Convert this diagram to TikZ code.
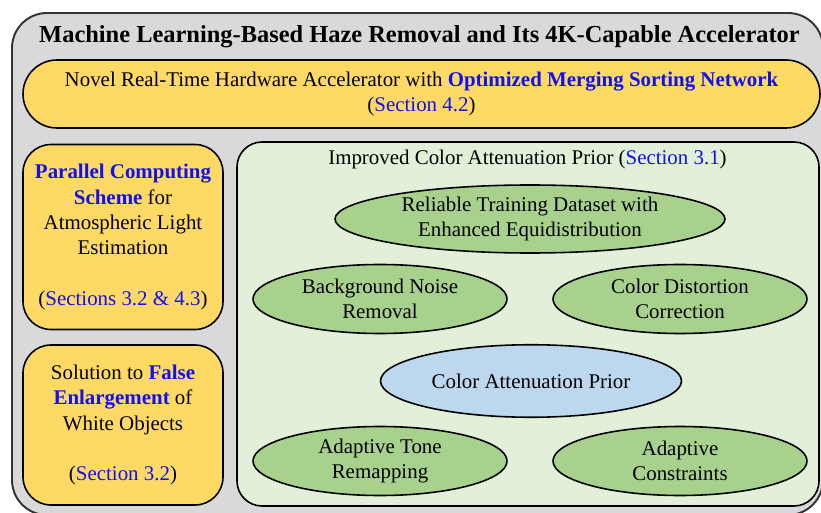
\documentclass[tikz,border=0pt]{standalone}
\usepackage{fontspec}
\setmainfont{Liberation Serif}
\usepackage{xcolor}
\usetikzlibrary{shapes.geometric}

\definecolor{framegray}{HTML}{D9D9D9}
\definecolor{boxgold}{HTML}{FFD966}
\definecolor{panelgreen}{HTML}{E2F0D9}
\definecolor{ovalgreen}{HTML}{A9D18E}
\definecolor{ovalblue}{HTML}{BDD7EE}
\definecolor{linkblue}{HTML}{1010F0}

\newcommand{\hlt}[1]{\textcolor{linkblue}{\textbf{#1}}}
\newcommand{\secref}[1]{(\textcolor{linkblue}{#1})}

\tikzset{
  bodytext/.style={font=\fontsize{11.9}{14.4}\selectfont, align=center},
  goldbox/.style={draw, fill=boxgold, line width=0.9pt, rounded corners=0.56cm, bodytext, minimum width=4cm},
  oval/.style={ellipse, draw, fill=ovalgreen, line width=0.9pt, inner sep=0pt, bodytext, minimum width=5.08cm, minimum height=1.38cm}
}

\begin{document}
\begin{tikzpicture}
    \useasboundingbox (0,0) rectangle (16.42,10.24);
    % outer frame
    \draw[fill=framegray, draw=black!80, line width=1.1pt, rounded corners=0.7cm] (0.24,-0.06) rectangle (16.46,9.98);
    \node[font=\fontsize{13.9}{16}\selectfont\bfseries] (title) at (8.39,9.5) {Machine Learning-Based Haze Removal and Its 4K-Capable Accelerator};

    % accelerator
    \node[goldbox, rounded corners=0.68cm, minimum width=15.94cm, minimum height=1.36cm] (accel) at (8.43,8.36) {Novel Real-Time Hardware Accelerator with \hlt{Optimized Merging Sorting Network}\\ \secref{Section 4.2}};

    % left column
    \node[goldbox, minimum height=3.7cm] (airlight) at (2.46,5.5) {\hlt{Parallel Computing}\\ \hlt{Scheme} for\\ Atmospheric Light\\ Estimation\\[14.4pt] \secref{Sections 3.2 \& 4.3}};
    \node[goldbox, minimum height=3.2cm] (whiteobj) at (2.46,1.74) {Solution to \hlt{False}\\ \hlt{Enlargement} of\\ White Objects\\[14.4pt] \secref{Section 3.2}};

    % improved CAP
    \node[draw, fill=panelgreen, line width=0.9pt, rounded corners=0.5cm, minimum width=11.64cm, minimum height=7.28cm] (cap) at (10.56,3.76) {};
    \node[bodytext] (captitle) at (10.55,7.06) {Improved Color Attenuation Prior \secref{Section 3.1}};
    \node[oval, minimum width=7.8cm, minimum height=1.36cm] (dataset) at (10.6,5.86) {Reliable Training Dataset with\\ Enhanced Equidistribution};
    \node[oval] (noise) at (7.6,4.26) {Background Noise\\ Removal};
    \node[oval] (distort) at (13.6,4.26) {Color Distortion\\ Correction};
    \node[oval, fill=ovalblue, minimum width=6.02cm, minimum height=1.45cm] (prior) at (10.62,2.62) {Color Attenuation Prior};
    \node[oval] (tone) at (7.6,1.02) {Adaptive Tone\\ Remapping};
    \node[oval] (constr) at (13.6,1.02) {Adaptive\\ Constraints};
\end{tikzpicture}
\end{document}
